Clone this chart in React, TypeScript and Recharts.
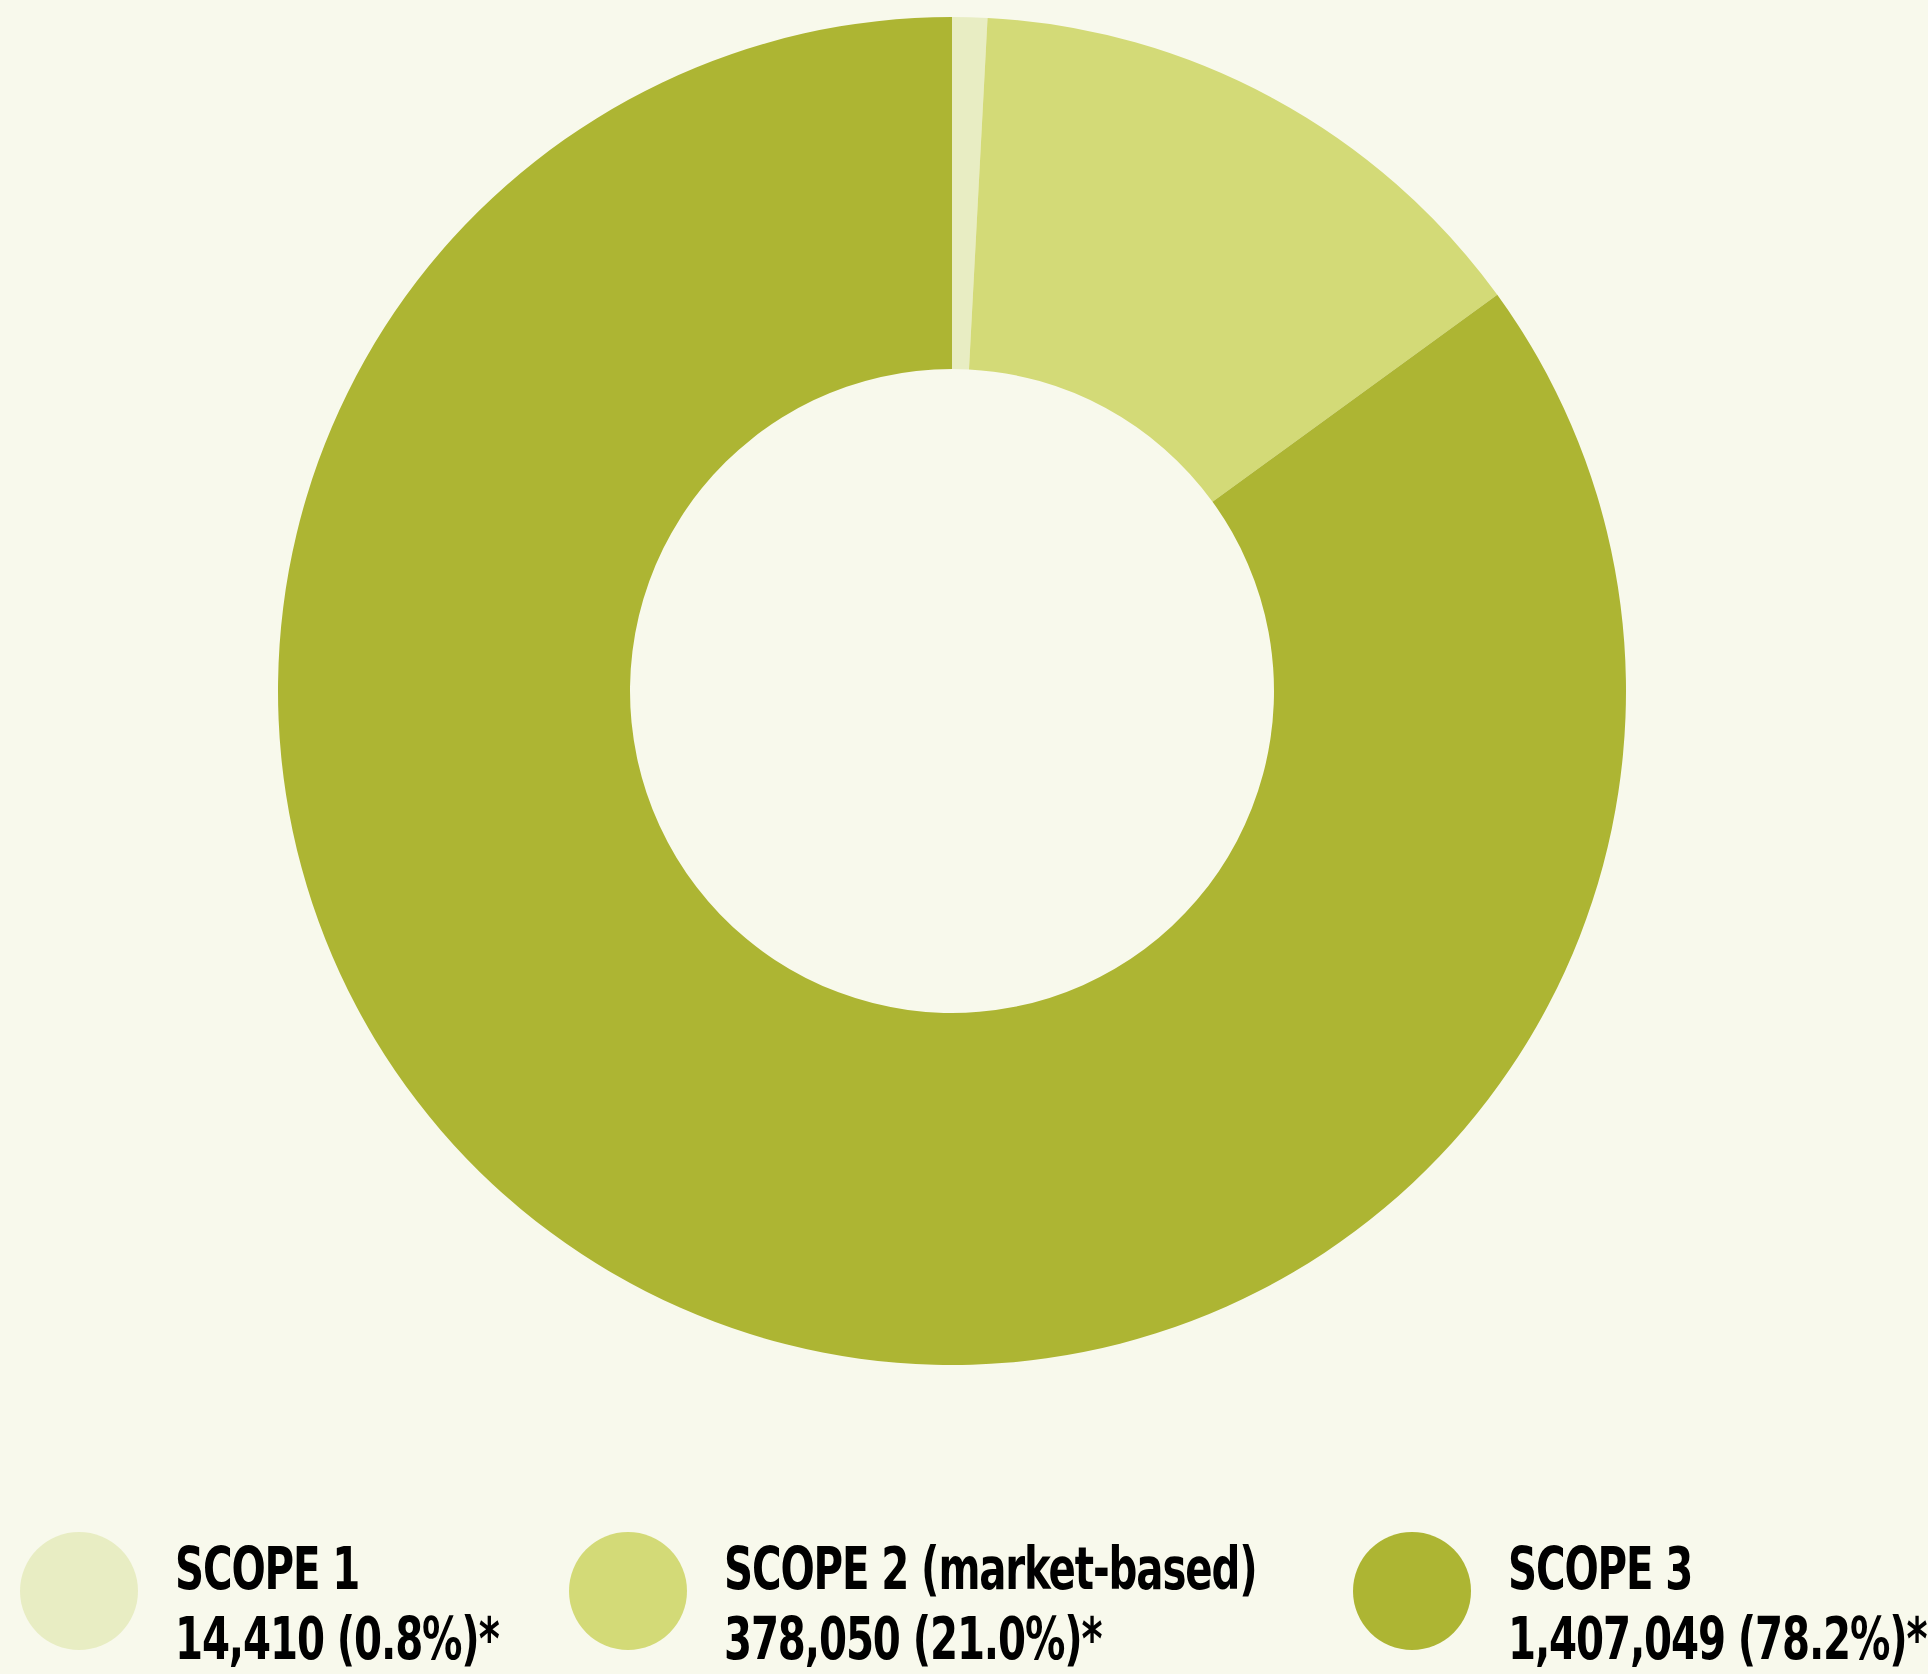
import React from 'react';
import { PieChart, Pie, Cell, Legend } from 'recharts';

// share of the ring as drawn (%)
const scopes = ['SCOPE 1', 'SCOPE 2 (market-based)', 'SCOPE 3'];
const drawnShare = [0.84, 14.16, 85.0];
const valueLabels = ['14,410 (0.8%)*', '378,050 (21.0%)*', '1,407,049 (78.2%)*'];
const colors = ['#E8EDC3', '#D3DA77', '#ADB533'];

const data = scopes.map((name, i) => ({ name, value: drawnShare[i], label: valueLabels[i] }));

const legendX = [20, 569, 1353];

const ScopeLegend = () => (
    <div style={{ position: 'relative', width: 1928, height: 174 }}>
        {data.map((d, i) => (
            <div key={d.name} style={{ position: 'absolute', left: legendX[i], top: 32 }}>
                <div
                    style={{
                        position: 'absolute',
                        left: 0,
                        top: 0,
                        width: 118,
                        height: 118,
                        borderRadius: '50%',
                        background: colors[i],
                    }}
                />
                <div
                    style={{
                        position: 'absolute',
                        left: 155,
                        top: 2,
                        whiteSpace: 'nowrap',
                        fontFamily: '"DejaVu Sans Condensed", "DejaVu Sans", sans-serif',
                        fontWeight: 700,
                        fontSize: 59,
                        lineHeight: '70px',
                        color: '#000',
                        letterSpacing: -1.5,
                        transform: 'scaleX(0.76)',
                        transformOrigin: 'left top',
                        textAlign: 'left',
                    }}
                >
                    <div>{d.name}</div>
                    <div>{d.label}</div>
                </div>
            </div>
        ))}
    </div>
);

const App: React.FC = () => {
    return (
        <div style={{ position: 'absolute', left: 0, top: 0, width: 1928, height: 1674, background: '#F8F9EC' }}>
            <PieChart width={1928} height={1674} margin={{ top: 0, right: 0, bottom: 0, left: 0 }}>
                <Pie
                    data={data}
                    dataKey="value"
                    nameKey="name"
                    cx={952}
                    cy={691}
                    innerRadius={322}
                    outerRadius={674}
                    startAngle={90}
                    endAngle={-270}
                    stroke="none"
                    isAnimationActive={false}
                >
                    {data.map((d, i) => (
                        <Cell key={d.name} fill={colors[i]} />
                    ))}
                </Pie>
                <Legend
                    content={<ScopeLegend />}
                    wrapperStyle={{ position: 'absolute', left: 0, top: 1500, width: 1928, height: 174 }}
                />
            </PieChart>
        </div>
    );
};

export default App;
